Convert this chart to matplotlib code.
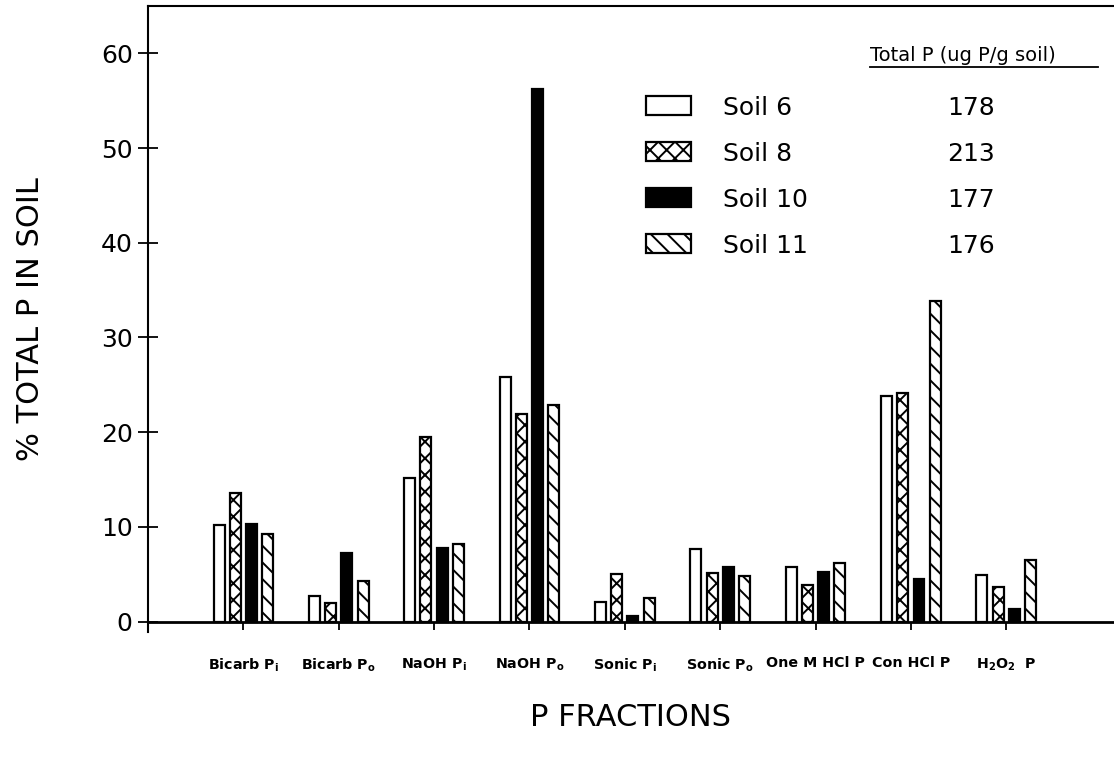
import matplotlib
matplotlib.use("Agg")
import matplotlib.pyplot as plt
import numpy as np

fractions = ["Bicarb P$_\\mathregular{i}$", "Bicarb P$_\\mathregular{o}$",
             "NaOH P$_\\mathregular{i}$", "NaOH P$_\\mathregular{o}$",
             "Sonic P$_\\mathregular{i}$", "Sonic P$_\\mathregular{o}$",
             "One M HCl P", "Con HCl P", "H$_\\mathregular{2}$O$_\\mathregular{2}$  P"]
soils = ["Soil 6", "Soil 8", "Soil 10", "Soil 11"]
total_p = [178, 213, 177, 176]

soil6 = [10.2, 2.7, 15.2, 25.8, 2.1, 7.7, 5.8, 23.8, 4.9]
soil8 = [13.6, 2.0, 19.5, 21.9, 5.0, 5.1, 3.9, 24.1, 3.6]
soil10 = [10.3, 7.2, 7.8, 56.2, 0.55, 5.8, 5.2, 4.5, 1.3]
soil11 = [9.3, 4.25, 8.2, 22.9, 2.5, 4.8, 6.2, 33.8, 6.5]

series = [soil6, soil8, soil10, soil11]
colors = ["white", "white", "black", "white"]
hatches = [None, "xx", None, "\\\\"]

plt.rcParams['hatch.linewidth'] = 1.4

fig = plt.figure(figsize=(11.14, 7.61), dpi=100)
ax = fig.add_axes([148 / 1114, 1 - 632 / 761, 1 - 148 / 1114, 626 / 761])

x = np.arange(1, len(fractions) + 1)
w = 0.115
step = 0.17
handles = []
for i, vals in enumerate(series):
    b = ax.bar(x + (i - 1.5) * step, vals, width=w, color=colors[i],
               edgecolor="black", hatch=hatches[i], linewidth=1.6, zorder=3)
    handles.append(b)

ax.set_xlim(0, 10.13)
ax.set_ylim(-1.1, 65)

ax.spines['right'].set_visible(False)
ax.spines['bottom'].set_position(('data', 0))
ax.spines['bottom'].set_linewidth(2)
ax.spines['bottom'].set_zorder(4)
ax.spines['left'].set_linewidth(1.5)
ax.spines['top'].set_linewidth(1.5)

ax.set_yticks(range(0, 61, 10))
ax.tick_params(axis='y', direction='inout', length=14, width=1.3,
               labelsize=18, pad=4)
ax.set_xticks(x)
ax.set_xticklabels(fractions, fontsize=10.3, fontweight='bold')
ax.tick_params(axis='x', direction='out', length=6, width=1.3, pad=19)

ax.set_ylabel("% TOTAL P IN SOIL", fontsize=22, labelpad=40)
ax.set_xlabel("P FRACTIONS", fontsize=22, labelpad=21)

leg = ax.legend(handles, soils, loc='upper left', bbox_to_anchor=(0.505, 0.873),
                frameon=False, fontsize=18, handlelength=1.8, handleheight=0.8,
                labelspacing=0.88, handletextpad=1.3, borderaxespad=0)

ax.text(0.747, 0.912, "Total P (ug P/g soil)", transform=ax.transAxes,
        fontsize=14, ha='left', va='baseline')
ax.plot([0.747, 0.983], [0.902, 0.902], transform=ax.transAxes, color='black',
        lw=1.3, clip_on=False)
fig.canvas.draw()
for txt, val in zip(leg.get_texts(), total_p):
    bb = txt.get_window_extent()
    ycen = (bb.y0 + bb.y1) / 2
    yax = ax.transAxes.inverted().transform((0, ycen))[1]
    ax.text(0.852, yax, str(val), transform=ax.transAxes, fontsize=18,
            ha='center', va='center')

fig.savefig("out.png", dpi=100)
